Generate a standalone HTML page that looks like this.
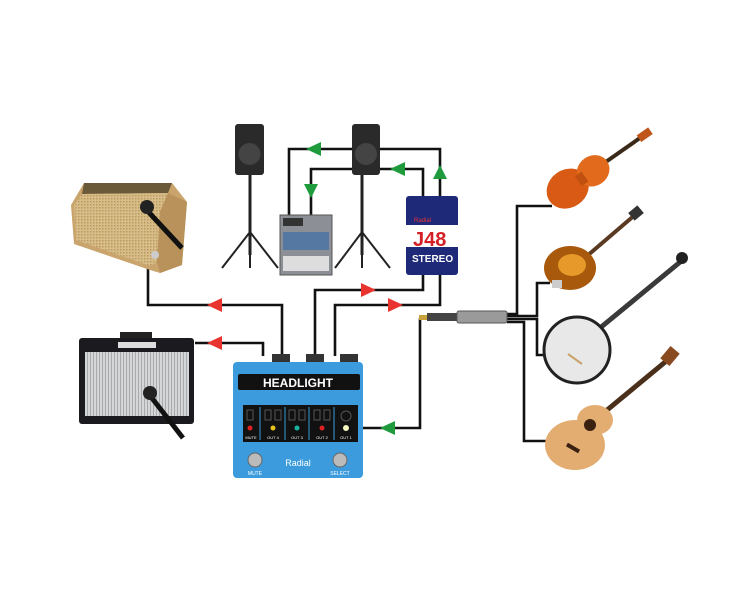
<!DOCTYPE html>
<html><head><meta charset="utf-8"><style>html,body{margin:0;padding:0;background:#fff}svg{display:block}</style></head>
<body>
<svg width="750" height="600" viewBox="0 0 750 600" xmlns="http://www.w3.org/2000/svg" font-family="Liberation Sans, sans-serif">
<defs>
<pattern id="g1" width="3" height="3" patternUnits="userSpaceOnUse"><rect width="3" height="3" fill="#d9bd88"/><rect width="1.5" height="1.5" fill="#b89a62"/></pattern>
<pattern id="g2" width="3" height="3" patternUnits="userSpaceOnUse"><rect width="3" height="3" fill="#d4d6d8"/><rect width="1" height="3" fill="#a8abae"/></pattern>
</defs>
<rect width="750" height="600" fill="#fff"/>
<!-- connectors -->
<g fill="none" stroke="#111" stroke-width="2.6">
<polyline points="148,268 148,305 282,305 282,356"/>
<polyline points="195,343 263,343 263,356"/>
<polyline points="315,356 315,290 423,290 423,275"/>
<polyline points="335,356 335,305 440,305 440,275"/>
<polyline points="440,196 440,149 378,149"/>
<polyline points="354,149 289,149 289,215"/>
<polyline points="423,196 423,169 378,169"/>
<polyline points="354,169 311,169 311,215"/>
<polyline points="420,318 420,428 362,428"/>
<polyline points="507,314 517,314 517,206 552,206"/>
<polyline points="507,316 537,316 537,283 550,283"/>
<polyline points="507,319 537,319 537,355 548,355"/>
<polyline points="507,322 524,322 524,441 548,441"/>
</g>
<!-- arrows -->
<g fill="#e8332e">
<polygon points="207,305 222,298 222,312"/>
<polygon points="207,343 222,336 222,350"/>
<polygon points="376,290 361,283 361,297"/>
<polygon points="403,305 388,298 388,312"/>
</g>
<g fill="#1f9a3c">
<polygon points="306,149 321,142 321,156"/>
<polygon points="390,169 405,162 405,176"/>
<polygon points="311,198 304,184 318,184"/>
<polygon points="440,165 433,179 447,179"/>
<polygon points="380,428 395,421 395,435"/>
</g>
<!-- Fender amp -->
<g>
<polygon points="84,183 172,183 187,202 182,265 160,273 150,270 74,244 71,205" fill="#c9a46c"/>
<polygon points="84,183 172,183 168,193 82,194" fill="#6a5a3a"/>
<polygon points="74,205 82,194 168,193 160,212 157,262 150,266 76,240" fill="url(#g1)"/>
<polygon points="168,193 187,202 182,265 160,273 157,262 160,212" fill="#b8925a"/>
<line x1="142" y1="205" x2="182" y2="248" stroke="#111" stroke-width="5"/>
<circle cx="147" cy="207" r="7" fill="#222"/>
<circle cx="155" cy="255" r="4" fill="#ccc"/>
</g>
<!-- Blues amp -->
<g>
<rect x="79" y="338" width="115" height="86" rx="3" fill="#1a1a1f"/>
<rect x="120" y="332" width="32" height="6" fill="#222"/>
<rect x="85" y="352" width="104" height="64" fill="url(#g2)"/>
<rect x="118" y="342" width="38" height="6" fill="#ddd"/>
<line x1="148" y1="393" x2="183" y2="438" stroke="#111" stroke-width="5"/>
<circle cx="150" cy="393" r="7" fill="#222"/>
</g>
<!-- speakers -->
<g>
<rect x="235" y="124" width="29" height="51" rx="3" fill="#2a2a2a"/>
<circle cx="249.5" cy="154" r="11" fill="#444"/>
<line x1="250" y1="175" x2="250" y2="255" stroke="#222" stroke-width="3"/>
<polyline points="222,268 250,232 278,268" fill="none" stroke="#222" stroke-width="2"/>
<line x1="250" y1="235" x2="250" y2="268" stroke="#222" stroke-width="2"/>
<rect x="352" y="124" width="28" height="51" rx="3" fill="#2a2a2a"/>
<circle cx="366" cy="154" r="11" fill="#444"/>
<line x1="362" y1="175" x2="362" y2="255" stroke="#222" stroke-width="3"/>
<polyline points="335,268 362,232 390,268" fill="none" stroke="#222" stroke-width="2"/>
<line x1="362" y1="235" x2="362" y2="268" stroke="#222" stroke-width="2"/>
</g>
<!-- mixer -->
<g>
<rect x="280" y="215" width="52" height="60" fill="#8c9096" stroke="#555"/>
<rect x="283" y="218" width="20" height="8" fill="#333"/>
<rect x="283" y="232" width="46" height="18" fill="#3d6ea8" opacity=".7"/>
<rect x="283" y="256" width="46" height="15" fill="#ddd"/>
</g>
<!-- J48 -->
<g>
<rect x="406" y="196" width="52" height="79" rx="3" fill="#1e2a78"/>
<rect x="406" y="225" width="52" height="22" fill="#fff"/>
<text x="413" y="246" font-size="20" font-weight="bold" fill="#d41f26">J48</text>
<text x="412" y="262" font-size="10" font-weight="bold" fill="#fff">STEREO</text>
<text x="414" y="222" font-size="6" fill="#e33">Radial</text>
</g>
<!-- Headlight pedal -->
<g>
<rect x="272" y="354" width="18" height="10" fill="#333"/>
<rect x="306" y="354" width="18" height="10" fill="#333"/>
<rect x="340" y="354" width="18" height="10" fill="#333"/>
<rect x="233" y="362" width="130" height="116" rx="4" fill="#3b9bdc"/>
<rect x="238" y="374" width="122" height="16" rx="2" fill="#111"/>
<text x="298" y="387" font-size="12" font-weight="bold" fill="#fff" text-anchor="middle">HEADLIGHT</text>
<rect x="243" y="405" width="115" height="37" fill="#111"/>
<g stroke="#555" fill="none"><rect x="247" y="410" width="6" height="10"/><rect x="265" y="410" width="6" height="10"/><rect x="275" y="410" width="6" height="10"/><rect x="289" y="410" width="6" height="10"/><rect x="299" y="410" width="6" height="10"/><rect x="314" y="410" width="6" height="10"/><rect x="324" y="410" width="6" height="10"/><circle cx="346" cy="416" r="5"/></g>
<g stroke="#3b9bdc"><line x1="260" y1="407" x2="260" y2="440"/><line x1="285" y1="407" x2="285" y2="440"/><line x1="309" y1="407" x2="309" y2="440"/><line x1="334" y1="407" x2="334" y2="440"/></g>
<circle cx="250" cy="428" r="2.5" fill="#d22"/>
<circle cx="273" cy="428" r="2.5" fill="#e8c21a"/>
<circle cx="297" cy="428" r="2.5" fill="#1bb3a0"/>
<circle cx="322" cy="428" r="2.5" fill="#d22"/>
<circle cx="346" cy="428" r="3" fill="#f4f8c0"/>
<g font-size="4" fill="#fff" text-anchor="middle"><text x="251" y="439">MUTE</text><text x="273" y="439">OUT 4</text><text x="297" y="439">OUT 3</text><text x="322" y="439">OUT 2</text><text x="346" y="439">OUT 1</text></g>
<circle cx="255" cy="460" r="7" fill="#bbb" stroke="#666"/>
<circle cx="340" cy="460" r="7" fill="#bbb" stroke="#666"/>
<text x="298" y="466" font-size="9" fill="#fff" text-anchor="middle">Radial</text>
<text x="255" y="475" font-size="5" fill="#fff" text-anchor="middle">MUTE</text>
<text x="340" y="475" font-size="5" fill="#fff" text-anchor="middle">SELECT</text>
</g>
<!-- plug -->
<g>
<rect x="419" y="315" width="8" height="5" fill="#c9a23a"/>
<rect x="427" y="313" width="30" height="8" fill="#444"/>
<rect x="457" y="311" width="50" height="12" rx="2" fill="#9a9a9a" stroke="#555"/>
</g>
<!-- violin -->
<g transform="rotate(-35 580 180)">
<line x1="600" y1="180" x2="660" y2="180" stroke="#3a2a1a" stroke-width="4"/>
<ellipse cx="565" cy="180" rx="22" ry="19" fill="#d85a14"/>
<ellipse cx="596" cy="180" rx="17" ry="15" fill="#e26a1c"/>
<rect x="578" y="174" width="8" height="12" fill="#c0500f"/>
<rect x="652" y="176" width="14" height="8" fill="#c0551a"/>
</g>
<!-- mandolin -->
<line x1="580" y1="262" x2="636" y2="214" stroke="#5a3a22" stroke-width="4"/>
<ellipse cx="570" cy="268" rx="26" ry="22" fill="#a8590c"/>
<ellipse cx="572" cy="265" rx="14" ry="11" fill="#e79a2a"/>
<rect x="552" y="280" width="10" height="8" fill="#ccc"/>
<rect x="630" y="208" width="12" height="10" fill="#333" transform="rotate(-40 636 213)"/>
<!-- banjo -->
<line x1="600" y1="328" x2="685" y2="258" stroke="#3a3a3a" stroke-width="5"/>
<circle cx="577" cy="350" r="33" fill="#e8e8e8" stroke="#222" stroke-width="3"/>
<circle cx="682" cy="258" r="6" fill="#222"/>
<line x1="568" y1="354" x2="582" y2="364" stroke="#c9a36a" stroke-width="2"/>
<!-- guitar -->
<line x1="595" y1="420" x2="670" y2="358" stroke="#4a2f1a" stroke-width="5"/>
<ellipse cx="575" cy="445" rx="30" ry="25" fill="#e3ad72"/>
<ellipse cx="595" cy="420" rx="18" ry="15" fill="#e3ad72"/>
<circle cx="590" cy="425" r="6" fill="#3a2010"/>
<rect x="566" y="446" width="14" height="4" fill="#3a2010" transform="rotate(30 573 448)"/>
<rect x="664" y="348" width="12" height="16" fill="#8a4a20" transform="rotate(40 670 356)"/>
</svg>
</body></html>
